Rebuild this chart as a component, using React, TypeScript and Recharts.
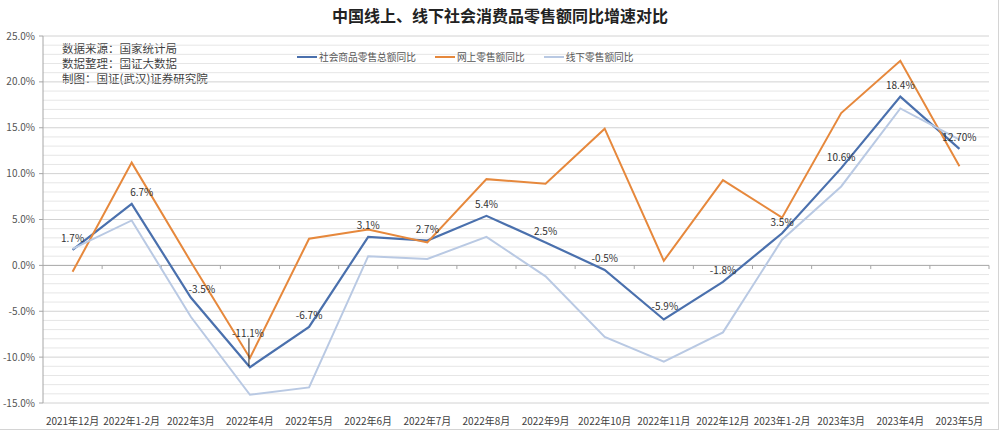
import { LineChart, Line, XAxis, YAxis, ReferenceLine, LabelList } from 'recharts'

const categories = [
  '2021年12月', '2022年1-2月', '2022年3月', '2022年4月', '2022年5月', '2022年6月', '2022年7月', '2022年8月',
  '2022年9月', '2022年10月', '2022年11月', '2022年12月', '2023年1-2月', '2023年3月', '2023年4月', '2023年5月',
]
const totalGrowth = [1.7, 6.7, -3.5, -11.1, -6.7, 3.1, 2.7, 5.4, 2.5, -0.5, -5.9, -1.8, 3.5, 10.6, 18.4, 12.7]
const onlineGrowth = [-0.7, 11.2, 0.4, -10.1, 2.9, 3.9, 2.5, 9.4, 8.9, 14.9, 0.5, 9.3, 5.2, 16.6, 22.3, 10.8]
const offlineGrowth = [1.8, 4.9, -5.6, -14.1, -13.3, 1.0, 0.7, 3.1, -1.2, -7.8, -10.5, -7.3, 2.8, 8.6, 17.1, 13.7]
const totalLabels = [
  '1.7%', '6.7%', '-3.5%', '-11.1%', '-6.7%', '3.1%', '2.7%', '5.4%',
  '2.5%', '-0.5%', '-5.9%', '-1.8%', '3.5%', '10.6%', '18.4%', '12.70%',
]
const yTicks = [-15, -10, -5, 0, 5, 10, 15, 20, 25]
const notes = ['数据来源：国家统计局', '数据整理：国证大数据', '制图：国证(武汉)证券研究院']
const seriesNames = ['社会商品零售总额同比', '网上零售额同比', '线下零售额同比']

const COLORS = ['#4a70ad', '#e6883c', '#b9c9e3']
const FONT = '"Noto Sans CJK SC", "Noto Sans", sans-serif'

const data = categories.map((c, i) => ({
  idx: i,
  name: c,
  total: totalGrowth[i],
  online: onlineGrowth[i],
  offline: offlineGrowth[i],
}))

// every 1% a light grid line, every 5% a bit darker
const gridValues: number[] = []
for (let v = -15; v <= 25; v++) if (v !== 0) gridValues.push(v)

const XTick = (props: any) => {
  const { x, y, payload } = props
  return (
    <text x={x} y={y + 14} textAnchor="middle" fontSize={10} fill="#404040" fontFamily={FONT}>
      {categories[payload.value]}
    </text>
  )
}

const TotalLabel = (props: any) => {
  const { x, y, index } = props
  let dx = 0
  let dy = -12
  if (index === 1) dx = 10
  if (index === 2) { dx = 11; dy = -9 }
  if (index === 3) { dx = -2; dy = -35 }
  if (index === 10) { dx = 1; dy = -14 }
  return (
    <g>
      {index === 3 && <line x1={x - 1} y1={y - 29} x2={x - 1} y2={y - 1} stroke="#222" strokeWidth={1} />}
      <text x={x + dx} y={y + dy} textAnchor="middle" dominantBaseline="central" fontSize={10} fill="#333" fontFamily={FONT}>
        {totalLabels[index]}
      </text>
    </g>
  )
}

export default function App() {
  return (
    <div style={{ position: 'absolute', left: 0, top: 0, width: 998, height: 429, background: '#fff', borderRight: '1px solid #d4d4d4', borderBottom: '1px solid #d4d4d4', fontFamily: FONT }}>
      <div style={{ position: 'absolute', top: 3, left: 0, width: 1000, textAlign: 'center', fontSize: 16, fontWeight: 'bold', color: '#222' }}>
        中国线上、线下社会消费品零售额同比增速对比
      </div>
      {notes.map((t, i) => (
        <div key={i} style={{ position: 'absolute', left: 62, top: 41 + i * 15, fontSize: 11.5, color: '#404040', lineHeight: '15px', whiteSpace: 'nowrap' }}>
          {t}
        </div>
      ))}
      <div style={{ position: 'absolute', top: 50, left: 297, display: 'flex', alignItems: 'center', fontSize: 9.7, color: '#555', zIndex: 2 }}>
        {seriesNames.map((n, i) => (
          <div key={i} style={{ display: 'flex', alignItems: 'center', marginRight: 19 }}>
            <div style={{ width: 20, height: 2, background: COLORS[i], marginRight: 2 }} />
            <span style={{ whiteSpace: 'nowrap' }}>{n}</span>
          </div>
        ))}
      </div>
      <LineChart width={1000} height={430} data={data} margin={{ top: 36, right: 11, bottom: 0, left: 3 }} style={{ position: 'absolute', left: 0, top: 0 }}>
        {gridValues.map((v) => (
          <ReferenceLine key={'g' + v} y={v} stroke={v % 5 === 0 ? '#d2d2d2' : '#e6e6e6'} strokeWidth={1} />
        ))}
        <XAxis
          dataKey="idx"
          type="number"
          domain={[-0.5, 15.5]}
          ticks={categories.map((_, i) => i)}
          interval={0}
          tick={<XTick />}
          axisLine={false}
          tickLine={false}
          height={27}
        />
        <YAxis
          domain={[-15, 25]}
          ticks={yTicks}
          interval={0}
          tickFormatter={(v: number) => v.toFixed(1) + '%'}
          tick={{ fontSize: 10, fill: '#555', fontFamily: FONT }}
          tickSize={4}
          tickMargin={4}
          tickLine={{ stroke: '#a6a6a6' }}
          axisLine={{ stroke: '#a6a6a6' }}
          width={40}
        />
        <ReferenceLine y={0} stroke="#a6a6a6" strokeWidth={1} />
        {categories.map((_, i) => (
          <ReferenceLine
            key={'t' + i}
            segment={[{ x: i + 0.5, y: 0 }, { x: i + 0.5, y: -0.4 }]}
            stroke="#a6a6a6"
            strokeWidth={1}
          />
        ))}
        <Line type="linear" dataKey="total" name={seriesNames[0]} stroke={COLORS[0]} strokeWidth={2.2} dot={false} isAnimationActive={false} />
        <Line type="linear" dataKey="online" name={seriesNames[1]} stroke={COLORS[1]} strokeWidth={2} dot={false} isAnimationActive={false} />
        <Line type="linear" dataKey="offline" name={seriesNames[2]} stroke={COLORS[2]} strokeWidth={2} dot={false} isAnimationActive={false} />
        {/* invisible copy of the total series, only to put its labels above every line */}
        <Line type="linear" dataKey="total" stroke="none" dot={false} activeDot={false} legendType="none" isAnimationActive={false}>
          <LabelList dataKey="total" content={<TotalLabel />} />
        </Line>
      </LineChart>
    </div>
  )
}
